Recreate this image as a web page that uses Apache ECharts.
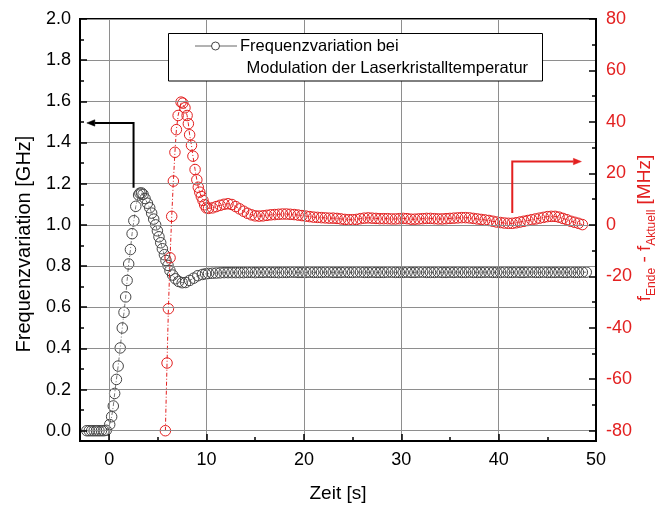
<!DOCTYPE html>
<html>
<head>
<meta charset="utf-8">
<script src="https://cdn.jsdelivr.net/npm/echarts@6/dist/echarts.min.js"></script>
<style>
  html, body { margin: 0; padding: 0; background: #fff; }
  #chart { width: 664px; height: 510px; }
</style>
</head>
<body>
<div id="chart"></div>
<script>
// Frequency variation (GHz) during the first seconds, before the tail
const blackRiseTime = [
  -2.3, -2.05, -1.8, -1.55, -1.3, -1.05, -0.8, -0.55, -0.3,
  0.05, 0.25, 0.42, 0.56, 0.74, 0.92, 1.13, 1.34, 1.52, 1.69,
  1.84, 2.0, 2.18, 2.35, 2.53, 2.73, 3.02, 3.15, 3.32, 3.48,
  3.68, 3.92, 4.16, 4.36, 4.57, 4.77, 4.95, 5.11, 5.29, 5.46,
  5.67, 5.83, 6.04, 6.24, 6.52, 6.8, 7.14, 7.5, 7.85, 8.26,
  8.68, 9.1, 9.57, 9.9
];
const blackRise = [
  0, 0, 0, 0, 0, 0, 0, 0, 0.002,
  0.03, 0.068, 0.12, 0.181, 0.249, 0.314, 0.402, 0.499, 0.575, 0.65,
  0.73, 0.81, 0.88, 0.957, 1.02, 1.09, 1.145, 1.154, 1.155, 1.148,
  1.128, 1.105, 1.083, 1.057, 1.028, 1.0, 0.971, 0.942, 0.913, 0.884,
  0.855, 0.827, 0.803, 0.778, 0.756, 0.738, 0.725, 0.719, 0.72, 0.73,
  0.741, 0.753, 0.759, 0.762
];

// f_Ende - f_Aktuell (MHz) before the tail
const redRiseTime = [
  5.77, 5.94, 6.08, 6.25, 6.42, 6.59, 6.75, 6.9, 7.08, 7.38,
  7.56, 7.78, 8.0, 8.13, 8.26, 8.45, 8.6, 8.82, 9.0, 9.15,
  9.3, 9.46, 9.63, 9.8, 9.98
];
const redRise = [
  -80, -53.7, -32.6, -12.8, 3.3, 17.0, 28.2, 37.0, 42.5, 47.7,
  47.3, 45.5, 42.5, 39.3, 35.0, 30.9, 26.7, 21.5, 17.5, 14.6,
  12.7, 11.0, 9.5, 7.8, 6.6
];

// Shared time base of the settled part (s)
const tailTime = [
  10.2, 10.6, 11.0, 11.4, 11.8, 12.2, 12.6, 13.0, 13.4, 13.8,
  14.2, 14.6, 15.0, 15.4, 15.8, 16.2, 16.6, 17.0, 17.4, 17.8,
  18.2, 18.6, 19.0, 19.4, 19.8, 20.2, 20.6, 21.0, 21.4, 21.8,
  22.2, 22.6, 23.0, 23.4, 23.8, 24.2, 24.6, 25.0, 25.4, 25.8,
  26.2, 26.6, 27.0, 27.4, 27.8, 28.2, 28.6, 29.0, 29.4, 29.8,
  30.2, 30.6, 31.0, 31.4, 31.8, 32.2, 32.6, 33.0, 33.4, 33.8,
  34.2, 34.6, 35.0, 35.4, 35.8, 36.2, 36.6, 37.0, 37.4, 37.8,
  38.2, 38.6, 39.0, 39.4, 39.8, 40.2, 40.6, 41.0, 41.4, 41.8,
  42.2, 42.6, 43.0, 43.4, 43.8, 44.2, 44.6, 45.0, 45.4, 45.8,
  46.2, 46.6, 47.0, 47.4, 47.8, 48.2, 48.6, 49.0
];
const blackTail = [
  0.764, 0.765, 0.766, 0.767, 0.768, 0.768, 0.768, 0.768, 0.768, 0.768,
  0.769, 0.769, 0.768, 0.769, 0.769, 0.770, 0.769, 0.769, 0.768, 0.769,
  0.769, 0.770, 0.770, 0.769, 0.769, 0.769, 0.770, 0.769, 0.769, 0.769,
  0.770, 0.770, 0.769, 0.769, 0.769, 0.770, 0.769, 0.769, 0.770, 0.770,
  0.769, 0.769, 0.770, 0.769, 0.769, 0.769, 0.770, 0.770, 0.769, 0.769,
  0.769, 0.770, 0.769, 0.769, 0.770, 0.770, 0.769, 0.769, 0.769, 0.770,
  0.769, 0.769, 0.770, 0.769, 0.770, 0.769, 0.769, 0.770, 0.769, 0.769,
  0.769, 0.770, 0.770, 0.769, 0.769, 0.769, 0.770, 0.769, 0.769, 0.770,
  0.769, 0.769, 0.770, 0.770, 0.769, 0.769, 0.770, 0.769, 0.769, 0.769,
  0.770, 0.769, 0.769, 0.770, 0.769, 0.769, 0.770, 0.770
];
const redTail = [
  6.4, 6.6, 7.1, 7.6, 8.0, 8.2, 7.9, 7.1, 6.2, 5.3,
  4.5, 3.9, 3.5, 3.4, 3.5, 3.7, 3.9, 4.0, 4.1, 4.2,
  4.2, 4.1, 4.0, 3.8, 3.6, 3.4, 3.2, 3.0, 2.9, 2.8,
  2.7, 2.6, 2.6, 2.5, 2.3, 2.1, 2.0, 2.0, 2.1, 2.4,
  2.6, 2.7, 2.6, 2.5, 2.4, 2.4, 2.4, 2.3, 2.3, 2.4,
  2.5, 2.4, 2.2, 2.2, 2.3, 2.4, 2.5, 2.5, 2.4, 2.3,
  2.3, 2.4, 2.5, 2.6, 2.7, 2.8, 2.8, 2.7, 2.5, 2.3,
  2.1, 1.9, 1.7, 1.4, 1.1, 0.9, 0.7, 0.6, 0.6, 0.8,
  1.1, 1.4, 1.7, 2.0, 2.3, 2.6, 2.9, 3.2, 3.3, 3.3,
  3.0, 2.5, 2.0, 1.4, 1.0, 0.6, 0.1
];

// Axis ticks
const xTicks = [0, 10, 20, 30, 40, 50];
const xMinorTicks = [5, 15, 25, 35, 45];
const leftTicks = [0, 0.2, 0.4, 0.6, 0.8, 1.0, 1.2, 1.4, 1.6, 1.8, 2.0];
const leftMinorTicks = [0.1, 0.3, 0.5, 0.7, 0.9, 1.1, 1.3, 1.5, 1.7, 1.9];
const rightTicks = [-80, -60, -40, -20, 0, 20, 40, 60, 80];
const rightMinorTicks = [-70, -50, -30, -10, 10, 30, 50, 70];

// Annotation arrows, in axis units: [x, y] path, last point is the tip
const blackArrowPath = [[2.5, 1.18], [2.5, 1.495], [-2.3, 1.495]];   // left axis units
const redArrowPath = [[41.4, 4.6], [41.4, 24.6], [48.5, 24.6]];      // right axis units

const FONT = '"Liberation Sans", Arial, Helvetica, sans-serif';
const RED = '#e32020';
const GRID_GRAY = '#8e8e8e';

const zip = (xs, ys) => ys.map((v, i) => [xs[i], v]);
const blackData = zip(blackRiseTime.concat(tailTime), blackRise.concat(blackTail));
const redData = zip(redRiseTime.concat(tailTime), redRise.concat(redTail));

const chart = echarts.init(document.getElementById('chart'), null, { renderer: 'canvas' });

function majorAxis(base) {
  return Object.assign({
    type: 'value',
    axisLine: { show: true, onZero: false, lineStyle: { color: '#000', width: 2 } },
    axisTick: { show: true, inside: true, length: 7, lineStyle: { color: '#000', width: 1.5 } },
    axisLabel: { fontFamily: FONT, fontSize: 18, color: '#000', margin: 9 },
    splitLine: { show: false },
    minorTick: { show: false },
    z: 5
  }, base);
}
function minorAxis(base, ticks) {
  return Object.assign({
    type: 'value',
    axisLine: { show: false, onZero: false },
    axisTick: { show: true, inside: true, length: 4, customValues: ticks, lineStyle: { color: '#000', width: 1.5 } },
    axisLabel: { show: false },
    splitLine: { show: false },
    z: 5
  }, base);
}

const option = {
  animation: false,
  backgroundColor: '#fff',
  grid: { left: 80, right: 68, top: 19, bottom: 69, show: true, borderColor: '#000', borderWidth: 2, backgroundColor: 'transparent', containLabel: false },
  xAxis: [
    majorAxis({
      position: 'bottom', min: -3, max: 50, splitNumber: 5,
      axisTick: { show: true, inside: true, length: 7, customValues: xTicks, lineStyle: { color: '#000', width: 1.5 } },
      axisLabel: { fontFamily: FONT, fontSize: 18, color: '#000', margin: 10, customValues: xTicks },
      splitLine: { show: true, lineStyle: { color: GRID_GRAY, width: 1 } }
    }),
    minorAxis({ position: 'bottom', min: -3, max: 50 }, xMinorTicks)
  ],
  yAxis: [
    majorAxis({
      position: 'left', min: -0.05, max: 2.0, splitNumber: 10,
      axisTick: { show: true, inside: true, length: 7, customValues: leftTicks, lineStyle: { color: '#000', width: 1.5 } },
      axisLabel: { fontFamily: FONT, fontSize: 18, color: '#000', margin: 9, customValues: leftTicks,
        formatter: v => v.toFixed(1) },
      splitLine: { show: true, lineStyle: { color: GRID_GRAY, width: 1 } }
    }),
    minorAxis({ position: 'left', min: -0.05, max: 2.0 }, leftMinorTicks),
    majorAxis({
      position: 'right', min: -84, max: 80, splitNumber: 8,
      axisTick: { show: true, inside: true, length: 7, customValues: rightTicks, lineStyle: { color: '#000', width: 1.5 } },
      axisLabel: { fontFamily: FONT, fontSize: 18, color: RED, margin: 10, customValues: rightTicks }
    }),
    minorAxis({ position: 'right', min: -84, max: 80 }, rightMinorTicks)
  ],
  series: [
    {
      name: 'Frequenzvariation',
      type: 'line', xAxisIndex: 0, yAxisIndex: 0,
      data: blackData,
      symbol: 'circle', symbolSize: 10.5, showAllSymbol: true,
      itemStyle: { color: 'rgba(0,0,0,0)', borderColor: '#454545', borderWidth: 1 },
      lineStyle: { color: '#777', width: 1, type: [4, 2, 1, 2] },
      silent: true, z: 3
    },
    {
      name: 'f_Ende - f_Aktuell',
      type: 'line', xAxisIndex: 0, yAxisIndex: 2,
      data: redData,
      symbol: 'circle', symbolSize: 10.5, showAllSymbol: true,
      itemStyle: { color: 'rgba(0,0,0,0)', borderColor: RED, borderWidth: 1 },
      lineStyle: { color: RED, width: 1, type: [4, 2, 1, 2] },
      silent: true, z: 4
    }
  ]
};
chart.setOption(option);

// Arrow from a path given in axis units
function arrowElements(path, yAxisIndex, color) {
  const pts = path.map(([x, y]) => [
    chart.convertToPixel({ xAxisIndex: 0 }, x),
    chart.convertToPixel({ yAxisIndex: yAxisIndex }, y)
  ]);
  const tip = pts[pts.length - 1];
  const prev = pts[pts.length - 2];
  const dx = tip[0] - prev[0], dy = tip[1] - prev[1];
  const len = Math.hypot(dx, dy);
  const ux = dx / len, uy = dy / len;
  const headLen = 8, headHalf = 3.2;
  const base = [tip[0] - ux * headLen, tip[1] - uy * headLen];
  const linePts = pts.slice(0, -1).concat([base]);
  return [
    { type: 'polyline', shape: { points: linePts }, style: { stroke: color, lineWidth: 2, fill: null }, z: 20 },
    { type: 'polygon', shape: { points: [tip, [base[0] - uy * headHalf, base[1] + ux * headHalf], [base[0] + uy * headHalf, base[1] - ux * headHalf]] },
      style: { fill: color, stroke: color, lineWidth: 0.5 }, z: 20 }
  ];
}

const legendBox = { x: 168.5, y: 33.5, w: 374, h: 47.5 };

chart.setOption({
  graphic: [
    // axis titles
    { type: 'text', x: 24, y: 244, rotation: Math.PI / 2, z: 10,
      style: { text: 'Frequenzvariation [GHz]', font: '20px ' + FONT, fill: '#000', align: 'center', verticalAlign: 'middle' } },
    { type: 'text', x: 338, y: 494, z: 10,
      style: { text: 'Zeit [s]', font: '19px ' + FONT, fill: '#000', align: 'center', verticalAlign: 'middle' } },
    { type: 'text', x: 645, y: 228, rotation: Math.PI / 2, z: 10,
      style: {
        text: '{m|f}{s|Ende}{m| - f}{s|Aktuell}{m| [MHz]}',
        align: 'center', verticalAlign: 'middle',
        rich: {
          m: { fontFamily: FONT, fontSize: 19, fill: RED, lineHeight: 26, verticalAlign: 'middle' },
          s: { fontFamily: FONT, fontSize: 12, fill: RED, lineHeight: 12, verticalAlign: 'bottom' }
        }
      } },
    // legend
    { type: 'rect', z: 15,
      shape: { x: legendBox.x, y: legendBox.y, width: legendBox.w, height: legendBox.h },
      style: { fill: '#fff', stroke: '#000', lineWidth: 1 } },
    { type: 'line', z: 16, shape: { x1: 195, y1: 46, x2: 237, y2: 46 }, style: { stroke: '#666', lineWidth: 1 } },
    { type: 'circle', z: 17, shape: { cx: 215.5, cy: 46, r: 4 }, style: { fill: '#fff', stroke: '#444', lineWidth: 1 } },
    { type: 'text', x: 240, y: 46, z: 17,
      style: { text: 'Frequenzvariation bei', font: '16.5px ' + FONT, fill: '#000', verticalAlign: 'middle' } },
    { type: 'text', x: 246.5, y: 68, z: 17,
      style: { text: 'Modulation der Laserkristalltemperatur', font: '16.5px ' + FONT, fill: '#000', verticalAlign: 'middle' } }
  ].concat(arrowElements(blackArrowPath, 0, '#000'), arrowElements(redArrowPath, 2, RED))
});
</script>
</body>
</html>
